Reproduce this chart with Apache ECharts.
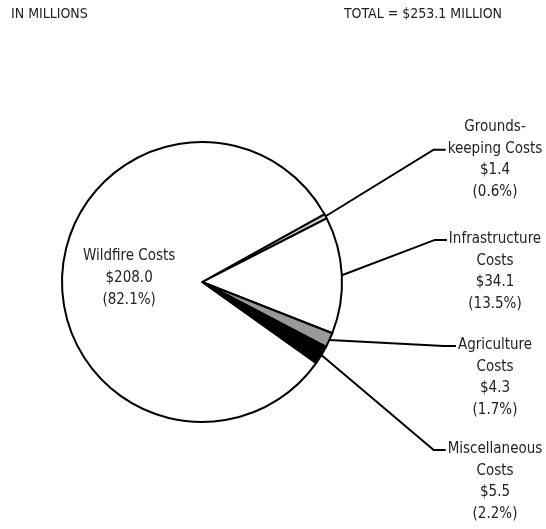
<!DOCTYPE html>
<html>
<head>
<meta charset="utf-8">
<script src="https://cdn.jsdelivr.net/npm/echarts@6/dist/echarts.min.js"></script>
<style>
html,body{margin:0;padding:0;background:#fff;}
#chart{width:546px;height:529px;}
</style>
</head>
<body>
<div id="chart"></div>
<script>
// Data (clockwise from the top of the small slices)
var categories = ["Grounds-\nkeeping Costs", "Infrastructure\nCosts", "Agriculture\nCosts", "Miscellaneous\nCosts", "Wildfire Costs"];
var values = [1.4, 34.1, 4.3, 5.5, 208.0];
var percents = ["0.6", "13.5", "1.7", "2.2", "82.1"];
var sliceColors = ["#cccccc", "#ffffff", "#999999", "#000000", "#ffffff"];
var headerLeft = "IN MILLIONS";
var headerRight = "TOTAL = $253.1 MILLION";

var FONT = "'Liberation Sans Narrow', 'DejaVu Sans Condensed', 'Noto Sans', sans-serif";

// label layout (top of first text line) and which line the leader attaches to
var labelTops = [116, 228, 334, 438];
var leaderLine = [1, 0, 0, 0];
var labelCenterX = 495;
var LH = 21.8;

var data = categories.map(function (c, i) {
  var item = {
    name: c,
    value: values[i],
    itemStyle: { color: sliceColors[i] }
  };
  if (i === 4) {
    item.label = { position: 'inside' };
    item.labelLine = { show: false };
  }
  return item;
});

var chart = echarts.init(document.getElementById('chart'), null, { renderer: 'canvas' });
chart.setOption({
  animation: false,
  backgroundColor: '#ffffff',
  title: [
    { text: headerLeft, left: 11, top: 7, padding: 0,
      textStyle: { fontFamily: FONT, fontSize: 14, fontWeight: 'normal', color: '#222' } },
    { text: headerRight, right: 44, top: 7, padding: 0,
      textStyle: { fontFamily: FONT, fontSize: 14, fontWeight: 'normal', color: '#222' } }
  ],
  series: [{
    type: 'pie',
    center: [202, 282],
    radius: [0, 140],
    startAngle: 29,
    clockwise: true,
    avoidLabelOverlap: false,
    itemStyle: { borderColor: '#000', borderWidth: 2 },
    emphasis: { disabled: true },
    label: {
      show: true,
      position: 'outside',
      fontFamily: FONT,
      fontSize: 15,
      lineHeight: LH,
      color: '#222',
      align: 'center',
      formatter: function (p) {
        return p.name + '\n$' + values[p.dataIndex].toFixed(1) + '\n(' + percents[p.dataIndex] + '%)';
      }
    },
    labelLine: {
      show: true,
      length: 20,
      length2: 10,
      smooth: false,
      lineStyle: { color: '#000', width: 2 }
    },
    labelLayout: function (params) {
      var i = params.dataIndex;
      if (i === 4) return null;
      var w = params.labelRect.width;
      var top = labelTops[i];
      var left = labelCenterX - w / 2;
      var ly = top + LH * (leaderLine[i] + 0.5) + 1;
      var start = params.labelLinePoints ? params.labelLinePoints[0] : [0, 0];
      return {
        x: labelCenterX,
        y: top,
        align: 'center',
        verticalAlign: 'top',
        labelLinePoints: [start, [left - 14, ly], [left - 2, ly]]
      };
    },
    data: data
  }]
});
</script>
</body>
</html>
